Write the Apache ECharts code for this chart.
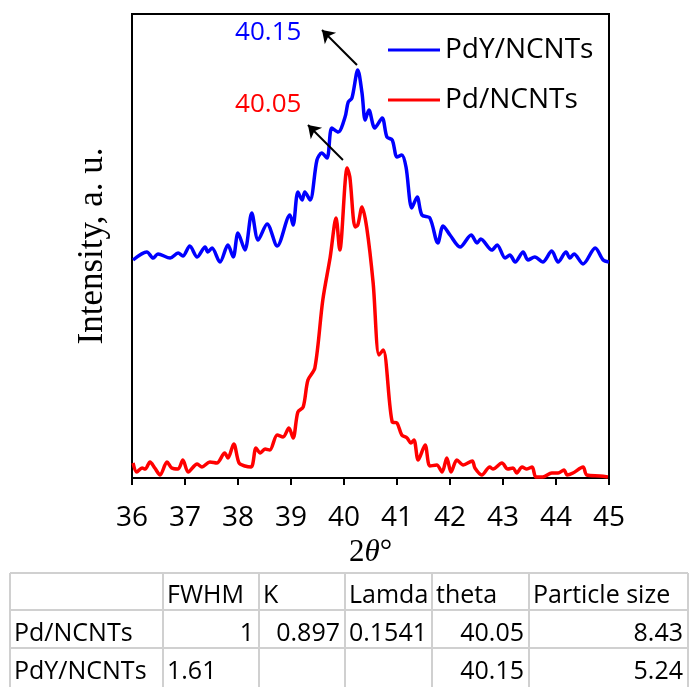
<!DOCTYPE html>
<html><head><meta charset="utf-8">
<script src="https://cdn.jsdelivr.net/npm/echarts@6/dist/echarts.min.js"></script>
<style>html,body{margin:0;padding:0;background:#fff}#c{width:689px;height:687px}</style>
</head><body><div id="c"></div>
<script>
// 2θ positions and intensities (arbitrary units)
const pdyTheta = [36.02,36.28,36.40,36.49,36.72,36.87,36.96,37.09,37.23,37.38,37.43,37.51,37.66,37.81,37.91,38.00,38.13,38.26,38.38,38.55,38.74,38.98,39.04,39.13,39.21,39.26,39.36,39.49,39.58,39.68,39.77,39.89,40.02,40.08,40.15,40.26,40.34,40.40,40.47,40.58,40.72,40.81,40.91,41.00,41.09,41.17,41.28,41.38,41.47,41.62,41.77,41.87,42.00,42.19,42.40,42.51,42.58,42.79,42.89,43.04,43.13,43.23,43.38,43.47,43.60,43.75,43.92,44.04,44.19,44.26,44.34,44.51,44.74,44.89,45.00];
const pdyIntensity = [218,226,220,224,220,225,222,232,221,231,226,230,216,233,221,245,228,265,238,254,232,263,253,286,278,286,278,318,325,320,350,346,361,376,380,408,385,358,368,350,360,341,338,321,323,311,270,281,263,260,235,252,243,231,243,235,239,228,233,220,223,216,226,218,221,216,227,216,226,220,224,214,230,218,216];
const pdTheta = [36.02,36.09,36.19,36.25,36.34,36.43,36.53,36.66,36.75,36.87,36.96,37.06,37.23,37.32,37.47,37.60,37.75,37.81,37.92,38.02,38.13,38.25,38.34,38.42,38.51,38.60,38.74,38.85,38.96,39.04,39.13,39.23,39.32,39.45,39.60,39.74,39.85,39.92,40.06,40.11,40.21,40.26,40.34,40.43,40.55,40.66,40.74,40.91,41.00,41.09,41.19,41.26,41.32,41.40,41.53,41.62,41.75,41.85,41.94,42.02,42.13,42.25,42.42,42.47,42.60,42.75,42.81,42.98,43.09,43.19,43.26,43.36,43.45,43.55,43.62,43.75,43.92,44.04,44.15,44.21,44.32,44.51,44.58,44.83,44.98];
const pdIntensity = [15,6,10,9,16,10,3,16,10,9,18,6,14,11,16,15,25,20,34,15,12,11,30,25,29,28,43,41,50,40,66,71,98,110,178,221,260,228,310,301,251,253,271,250,195,123,128,56,55,43,40,35,38,18,33,12,13,6,20,6,18,13,17,10,3,11,9,15,9,10,5,11,9,11,1,1,5,5,8,3,5,11,3,2,1];

const seriesNames = ['PdY/NCNTs', 'Pd/NCNTs'];
const peakLabels = ['40.15', '40.05'];
// annotation anchors in data units: [label, arrow tail, arrow head]
const pdyAnno = {label: [38.57, 445], tail: [40.245, 413], head: [39.585, 448]};
const pdAnno = {label: [38.57, 373], tail: [39.98, 318], head: [39.32, 353]};

const xTicks = [36, 45, 1];

// table
const tableHeader = ['', 'FWHM', 'K', 'Lamda', 'theta', 'Particle size'];
const tableRowPd = ['Pd/NCNTs', '1', '0.897', '0.1541', '40.05', '8.43'];
const tableRowPdY = ['PdY/NCNTs', '1.61', '', '', '40.15', '5.24'];
const alignHeader = ['l','l','l','l','l','l'];
const alignPd = ['l','r','r','r','r','r'];
const alignPdY = ['l','l','r','r','r','r'];

const zip = (a, b) => a.map((v, i) => [v, b[i]]);

const chart = echarts.init(document.getElementById('c'), null, {renderer: 'canvas'});

// table layout
const colX = [10, 163, 259, 345, 432, 529, 688];
const rowY = [573, 610, 648, 690];
const textY = [596, 634, 672];
const tFont = '"Open Sans", sans-serif';
const graphics = [];
const gridColor = '#d0d0d0';
colX.forEach(x => graphics.push({type: 'line', shape: {x1: x, y1: rowY[0], x2: x, y2: rowY[3]}, style: {stroke: gridColor, lineWidth: 2}, silent: true}));
rowY.forEach(y => graphics.push({type: 'line', shape: {x1: colX[0], y1: y, x2: colX[6], y2: y}, style: {stroke: gridColor, lineWidth: 2}, silent: true}));
[[tableHeader, alignHeader], [tableRowPd, alignPd], [tableRowPdY, alignPdY]].forEach(([row, al], r) => {
  row.forEach((t, c) => {
    if (!t) return;
    const left = al[c] === 'l';
    graphics.push({
      type: 'text', silent: true,
      x: left ? colX[c] + 4 : colX[c + 1] - 5,
      y: textY[r],
      style: {text: t, fill: '#000', font: '25px ' + tFont, align: left ? 'left' : 'right', verticalAlign: 'middle'}
    });
  });
});

function annoSeries(anno, color, text) {
  return {
    markLine: {
      silent: true, symbol: ['none', 'arrow'], symbolSize: 12,
      lineStyle: {color: '#000', width: 2, type: 'solid'},
      label: {show: false}, animation: false,
      data: [[{coord: anno.tail}, {coord: anno.head}]]
    },
    markPoint: {
      silent: true, symbol: 'circle', symbolSize: 0, animation: false,
      label: {show: true, position: 'inside', formatter: text, color: color, fontSize: 26, fontFamily: tFont},
      data: [{coord: anno.label}]
    }
  };
}

chart.setOption({
  animation: false,
  backgroundColor: '#fff',
  grid: {left: 132, right: 80, top: 14, bottom: 209, show: true, borderColor: '#000', borderWidth: 2, backgroundColor: 'transparent'},
  legend: {
    data: seriesNames, orient: 'vertical', left: 388, top: 36, itemGap: 22, padding: 0,
    icon: 'rect', itemWidth: 52, itemHeight: 3,
    textStyle: {fontSize: 28, fontFamily: tFont, color: '#000', padding: [0, 0, 0, 0]}
  },
  xAxis: {
    type: 'value', min: xTicks[0], max: xTicks[1], interval: xTicks[2],
    name: '{n|2}{i|θ}{n|°}', nameLocation: 'middle', nameGap: 50,
    nameTextStyle: {rich: {n: {fontFamily: '"Liberation Serif", serif', fontSize: 31, color: '#000'}, i: {fontFamily: '"Liberation Serif", serif', fontStyle: 'italic', fontSize: 31, color: '#000'}}},
    axisLine: {show: true, lineStyle: {color: '#000', width: 2}},
    axisTick: {show: true, inside: false, length: 7, lineStyle: {color: '#000', width: 2}},
    axisLabel: {fontSize: 28, fontFamily: tFont, color: '#000', margin: 26},
    splitLine: {show: false}
  },
  yAxis: {
    type: 'value', min: 0, max: 464,
    name: 'Intensity, a. u.', nameLocation: 'middle', nameGap: 22, nameRotate: 90,
    nameTextStyle: {fontFamily: '"Liberation Serif", serif', fontSize: 35, color: '#000'},
    axisLine: {show: false}, axisTick: {show: false}, axisLabel: {show: false}, splitLine: {show: false}
  },
  series: [
    Object.assign({
      name: seriesNames[1], type: 'line', data: zip(pdTheta, pdIntensity),
      smooth: 0.3, symbol: 'none', lineStyle: {color: '#ff0000', width: 3.5}, itemStyle: {color: '#ff0000'}, z: 2
    }, annoSeries(pdAnno, '#ff0000', peakLabels[1])),
    Object.assign({
      name: seriesNames[0], type: 'line', data: zip(pdyTheta, pdyIntensity),
      smooth: 0.3, symbol: 'none', lineStyle: {color: '#0000ff', width: 3.5}, itemStyle: {color: '#0000ff'}, z: 3
    }, annoSeries(pdyAnno, '#0000ff', peakLabels[0]))
  ],
  graphic: graphics
});
</script></body></html>
